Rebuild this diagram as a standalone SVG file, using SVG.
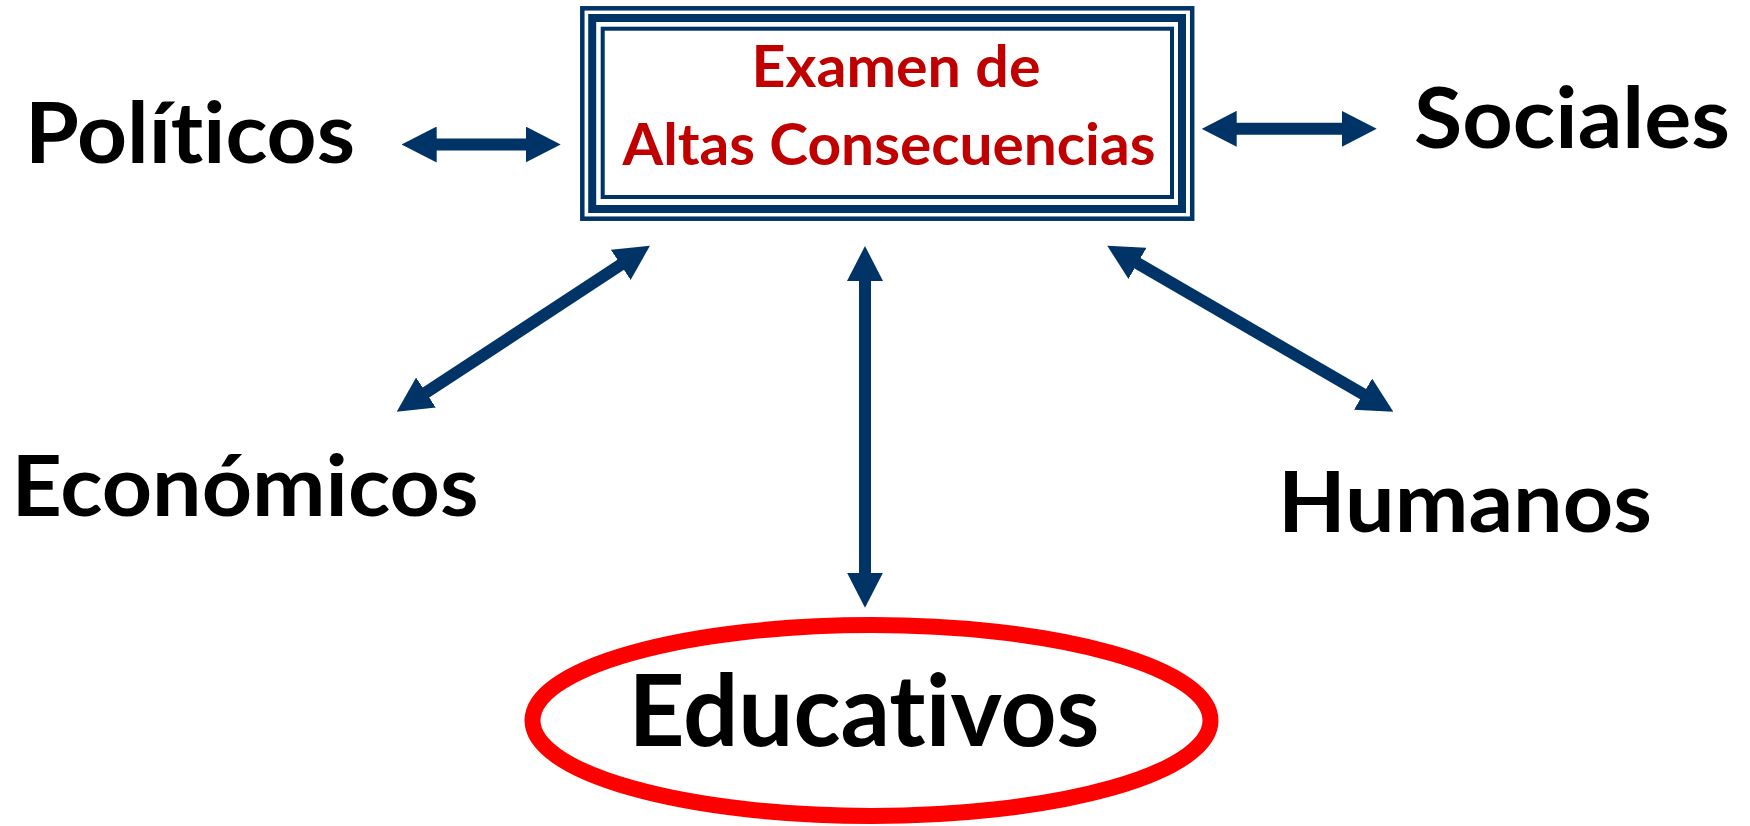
<svg xmlns="http://www.w3.org/2000/svg" width="1750" height="826" viewBox="0 0 1750 826">
<style>
.lbl{font-family:Lato,"Open Sans","Liberation Sans",sans-serif;font-weight:bold;fill:#000;text-anchor:middle;font-variant-ligatures:none}
.big{font-size:84px}
.red{font-family:Lato,"Open Sans","Liberation Sans",sans-serif;font-weight:bold;fill:#C00000;text-anchor:middle;font-size:57px;font-variant-ligatures:none}
.conn{stroke:#003366;stroke-width:12;fill:none;marker-start:url(#ah);marker-end:url(#ah)}
.frame{fill:none;stroke:#003366}
</style>
<defs>
<marker id="ah" viewBox="0 0 35 36" refX="5" refY="18" markerWidth="35" markerHeight="36" markerUnits="userSpaceOnUse" orient="auto-start-reverse">
<path d="M0,0 L35,18 L0,36 Z" fill="#003366"/>
</marker>
</defs>
<rect width="1750" height="826" fill="#fff"/>
<g id="connectors">
<line class="conn" x1="431.7" y1="144.5" x2="530.7" y2="144.5"/>
<line class="conn" x1="1231.7" y1="128.8" x2="1346.7" y2="128.8"/>
<line class="conn" x1="865" y1="276" x2="865" y2="577.7"/>
<line class="conn" x1="624.9" y1="262.1" x2="421.8" y2="395.3"/>
<line class="conn" x1="1133.2" y1="260.8" x2="1367.4" y2="396.6"/>
</g>
<g id="examen">
<rect class="frame" x="582.3" y="8.3" width="609.9" height="210.4" stroke-width="4.5" fill="#fff"/>
<rect class="frame" x="592.2" y="18" width="589.8" height="191" stroke-width="8"/>
<rect class="frame" x="602.7" y="28.7" width="569.3" height="168.3" stroke-width="4"/>
<text class="red" x="896" y="87" textLength="289" lengthAdjust="spacingAndGlyphs">Examen de</text>
<text class="red" x="889" y="165" textLength="533" lengthAdjust="spacingAndGlyphs">Altas Consecuencias</text>
</g>
<g id="politicos">
<text class="lbl big" x="190" y="163" textLength="330" lengthAdjust="spacingAndGlyphs">Políticos</text>
</g>
<g id="sociales">
<text class="lbl big" x="1572" y="148" textLength="316" lengthAdjust="spacingAndGlyphs">Sociales</text>
</g>
<g id="economicos">
<text class="lbl big" x="245" y="516" textLength="467" lengthAdjust="spacingAndGlyphs">Económicos</text>
</g>
<g id="humanos">
<text class="lbl big" x="1465" y="532" textLength="374" lengthAdjust="spacingAndGlyphs">Humanos</text>
</g>
<g id="educativos">
<ellipse cx="871.5" cy="720.5" rx="339" ry="95.5" fill="none" stroke="#FF0000" stroke-width="16"/>
<text class="lbl" x="864" y="746" font-size="100" textLength="471" lengthAdjust="spacingAndGlyphs">Educativos</text>
</g>
</svg>
